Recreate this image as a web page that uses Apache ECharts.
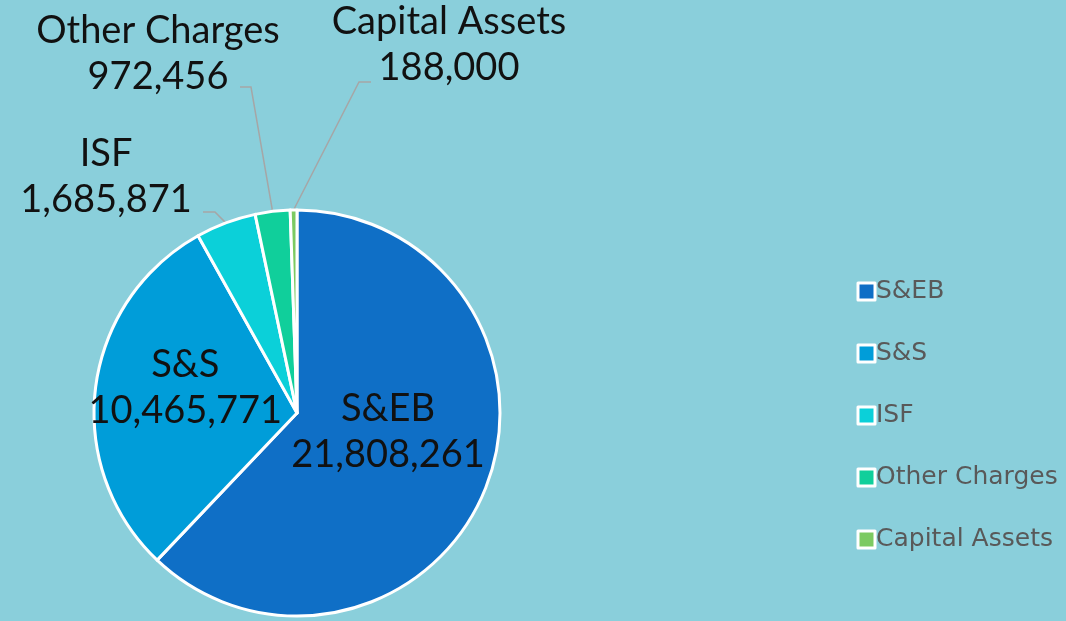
<!DOCTYPE html>
<html><head><meta charset="utf-8">
<script src="https://cdn.jsdelivr.net/npm/echarts@6/dist/echarts.min.js"></script>
<style>html,body{margin:0;padding:0;background:#8ACFDB;}#c{width:1066px;height:621px;}</style>
</head><body><div id="c"></div>
<script>
const categories = ["S&EB", "S&S", "ISF", "Other Charges", "Capital Assets"];
const values = [21808261, 10465771, 1685871, 972456, 188000];
const colors = ["#0F6FC6", "#009DD9", "#0BD0D9", "#10CF9B", "#7CCA62"];
const labelInside = [true, true, false, false, false];

// label placement (text layout only, not data marks)
const labelPlace = [
  { dx: -6, dy: -20 },
  { dx: -8, dy: -12 },
  { x: 106, y: 177, bend: [215, 212], end: [203, 212] },
  { x: 158, y: 54, bend: [251, 87], end: [240, 87] },
  { x: 449, y: 45, bend: [359, 82], end: [371, 82] }
];

const chart = echarts.init(document.getElementById('c'));
const FONT = 'Lato, "Open Sans", sans-serif';
chart.setOption({
  backgroundColor: '#8ACFDB',
  animation: false,
  legend: {
    orient: 'vertical', left: 851.5, top: 274,
    itemWidth: 17, itemHeight: 17, itemGap: 37,
    icon: 'rect',
    textStyle: { fontFamily: '"DejaVu Sans", sans-serif', fontSize: 25, color: '#595959', lineHeight: 25, padding: [0,0,0,-4] },
    itemStyle: { borderColor: '#fff', borderWidth: 3 },
    data: categories
  },
  series: [{
    type: 'pie',
    center: [297, 413], radius: 203,
    startAngle: 90, clockwise: true,
    itemStyle: { borderColor: '#fff', borderWidth: 3 },
    label: {
      fontFamily: FONT, fontSize: 38, color: '#111', lineHeight: 46,
      width: 400, overflow: 'none', align: 'center',
      formatter: p => p.name + '\n' + p.value.toLocaleString('en-US')
    },
    labelLine: { lineStyle: { color: '#A6A6A6', width: 1.5 }, length: 40, length2: 10 },
    labelLayout: function (params) {
      const lp = labelPlace[params.dataIndex];
      if (lp.x == null) return { dx: lp.dx, dy: lp.dy };
      const p0 = params.labelLinePoints ? params.labelLinePoints[0] : lp.bend;
      return {
        x: lp.x, y: lp.y, align: 'center', verticalAlign: 'middle',
        labelLinePoints: [p0, lp.bend, lp.end]
      };
    },
    data: categories.map((n, i) => ({
      name: n, value: values[i], itemStyle: { color: colors[i] },
      label: { position: labelInside[i] ? 'inside' : 'outside' },
      labelLine: { show: !labelInside[i] }
    }))
  }]
});
</script></body></html>
